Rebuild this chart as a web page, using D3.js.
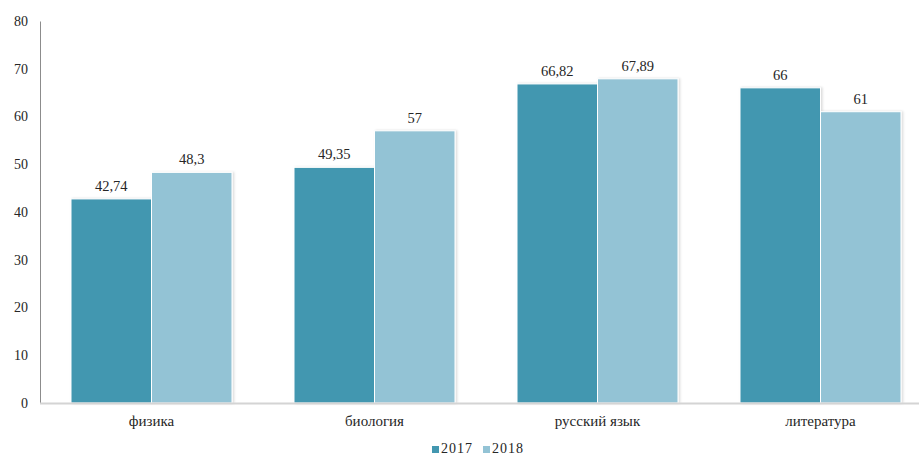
<!DOCTYPE html>
<html>
<head>
<meta charset="utf-8">
<script src="https://cdn.jsdelivr.net/npm/d3@7"></script>
<style>
  body { margin: 0; background: #fff; }
  text { font-family: "Liberation Serif", "DejaVu Serif", serif; fill: #262626; }
</style>
</head>
<body>
<div id="chart"></div>
<script>
// data
const subjects = ['физика', 'биология', 'русский язык', 'литература'];
const years = ['2017', '2018'];
const values2017 = [42.74, 49.35, 66.82, 66];
const values2018 = [48.3, 57, 67.89, 61];
const valueLabels2017 = ['42,74', '49,35', '66,82', '66'];
const valueLabels2018 = ['48,3', '57', '67,89', '61'];
const yTicks = [0, 10, 20, 30, 40, 50, 60, 70, 80];
const colors = ['#4397b0', '#93c3d5'];

const W = 919, H = 455;
const svg = d3.select('#chart').append('svg').attr('width', W).attr('height', H);

const defs = svg.append('defs');
const f = defs.append('filter').attr('id', 'shadow').attr('x', '-10%').attr('y', '-10%').attr('width', '130%').attr('height', '130%');
f.append('feDropShadow').attr('dx', 1.5).attr('dy', 0).attr('stdDeviation', 1).attr('flood-color', '#000').attr('flood-opacity', 0.15);

const x0 = d3.scaleBand().domain(subjects).range([40, 932]).paddingInner(0).paddingOuter(0);
const x1 = d3.scaleBand().domain(years).range([31, x0.bandwidth() - 31]);
const y = d3.scaleLinear().domain([0, 80]).range([403, 21]);

// y axis
const yAxis = svg.append('g').attr('transform', 'translate(40,0)')
  .call(d3.axisLeft(y).tickValues(yTicks).tickSize(0).tickPadding(12));
yAxis.select('.domain').attr('stroke', '#8c8c8c').attr('stroke-width', 1);
yAxis.selectAll('text').style('font-size', '14px').attr('fill', '#262626')
  .style('font-family', '"Liberation Serif", serif');

const rows = subjects.map((s, i) => ({
  subject: s,
  bars: [
    { year: years[0], v: values2017[i], label: valueLabels2017[i] },
    { year: years[1], v: values2018[i], label: valueLabels2018[i] }
  ]
}));

const groups = svg.selectAll('.grp').data(rows).enter().append('g')
  .attr('transform', d => `translate(${x0(d.subject)},0)`);

groups.selectAll('rect').data(d => d.bars).enter().append('rect')
  .attr('x', d => x1(d.year))
  .attr('y', d => y(d.v))
  .attr('width', x1.bandwidth())
  .attr('height', d => y(0) - y(d.v))
  .attr('fill', (d, i) => colors[i])
  .attr('stroke', '#fff').attr('stroke-width', 1)
  .attr('filter', 'url(#shadow)');

groups.selectAll('.val').data(d => d.bars).enter().append('text')
  .attr('x', d => x1(d.year) + x1.bandwidth() / 2)
  .attr('y', d => y(d.v) - 8)
  .attr('text-anchor', 'middle')
  .style('font-size', '14.5px')
  .text(d => d.label);

// x baseline
svg.append('line').attr('x1', 40).attr('x2', 919).attr('y1', 403.5).attr('y2', 403.5)
  .attr('stroke', '#d4d4d4').attr('stroke-width', 2);

const xAxis = svg.append('g').attr('transform', 'translate(0,403)')
  .call(d3.axisBottom(x0).tickSize(0).tickPadding(12));
xAxis.select('.domain').remove();
xAxis.selectAll('text').style('font-size', '15px').attr('fill', '#262626')
  .style('font-family', '"Liberation Serif", serif');

// legend
const legend = svg.append('g').attr('transform', 'translate(432,453)');
years.forEach((yr, i) => {
  const g = legend.append('g').attr('transform', `translate(${i * 51},0)`);
  g.append('rect').attr('x', 0).attr('y', -7).attr('width', 7).attr('height', 7).attr('fill', colors[i]);
  g.append('text').attr('x', 9).attr('y', 0).style('font-size', '14px').style('letter-spacing', '1px').text(yr);
});
</script>
</body>
</html>
